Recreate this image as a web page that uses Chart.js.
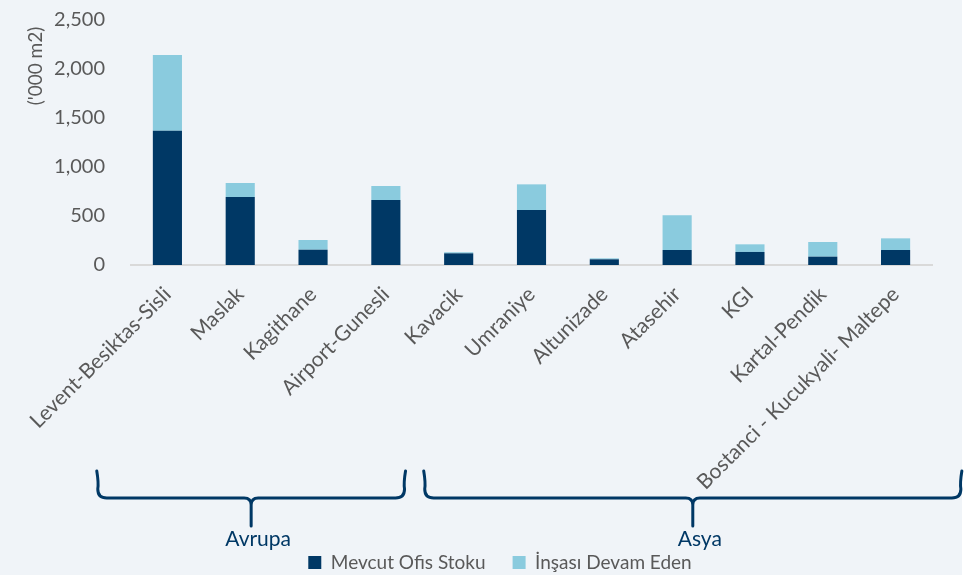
<!DOCTYPE html>
<html><head><meta charset="utf-8">
<script src="https://cdn.jsdelivr.net/npm/chart.js@4"></script>
<style>html,body{margin:0;padding:0;background:#fff;overflow:hidden}</style>
</head><body>
<canvas id="c" width="968" height="575" style="width:968px;height:575px;display:block"></canvas>
<script>
const categories = ['Levent-Besiktas-Sisli','Maslak','Kagithane','Airport-Gunesli','Kavacik','Umraniye','Altunizade','Atasehir','KGI','Kartal-Pendik','Bostanci - Kucukyali- Maltepe'];
const existingStock = [1370, 694, 156, 663, 119, 561, 58, 153, 133, 85, 153];
const underConstruction = [773, 143, 99, 143, 11, 262, 10, 354, 78, 150, 119];
const seriesNames = ['Mevcut Ofis Stoku', 'İnşası Devam Eden'];
const yTicks = [0, 500, 1000, 1500, 2000, 2500];
const yTitle = "('000 m2)";
const groupLabels = ['Avrupa', 'Asya'];
const groupFrom = [-0.97, 3.52];
const groupTo = [3.27, 10.91];

const FONT = 'Lato';
const GRAY = '#595959';
const NAVY = '#003865';
const LIGHT = '#8ACBDE';

const bgPlugin = {
  id: 'bg',
  beforeDraw(chart) {
    const c = chart.ctx;
    c.save();
    c.fillStyle = '#F0F4F8';
    c.fillRect(0, 0, 962, chart.height);
    c.restore();
  }
};

const legendShift = {
  id: 'legendShift',
  afterLayout(chart) {
    const lg = chart.legend;
    if (lg) { lg.left += 9; lg.right += 9; }
  }
};

const extrasPlugin = {
  id: 'extras',
  afterDraw(chart) {
    const c = chart.ctx;
    const x = chart.scales.x, y = chart.scales.y;
    const base = chart.chartArea.bottom;
    // y title
    c.save();
    c.fillStyle = GRAY;
    c.font = '19px ' + FONT;
    c.textAlign = 'center';
    c.textBaseline = 'middle';
    c.translate(36, y.top + 46);
    c.rotate(-Math.PI / 2);
    c.fillText(yTitle, 0, 0);
    c.restore();
    // braces
    const top = base + 206, line = base + 233, stem = base + 261;
    const r = 9, r2 = 7;
    c.save();
    c.strokeStyle = NAVY;
    c.lineWidth = 3;
    c.lineCap = 'round';
    c.lineJoin = 'round';
    for (let i = 0; i < groupLabels.length; i++) {
      const L = x.getPixelForValue(groupFrom[i]);
      const R = x.getPixelForValue(groupTo[i]);
      const C = (L + R) / 2;
      c.beginPath();
      c.moveTo(L, top);
      c.quadraticCurveTo(L + 2, line - r - 6, L + 1, line - r);
      c.quadraticCurveTo(L + 1, line, L + r + 1, line);
      c.lineTo(C - r2, line);
      c.quadraticCurveTo(C, line, C, line + r2);
      c.lineTo(C, stem);
      c.moveTo(R, top);
      c.quadraticCurveTo(R - 2, line - r - 6, R - 1, line - r);
      c.quadraticCurveTo(R - 1, line, R - r - 1, line);
      c.lineTo(C + r2, line);
      c.quadraticCurveTo(C, line, C, line + r2);
      c.stroke();
      c.fillStyle = NAVY;
      c.font = '21px ' + FONT;
      c.textAlign = 'center';
      c.textBaseline = 'alphabetic';
      c.fillText(groupLabels[i], C + 7, base + 281);
    }
    c.restore();
  }
};

new Chart(document.getElementById('c'), {
  type: 'bar',
  data: {
    labels: categories,
    datasets: [
      { label: seriesNames[0], data: existingStock, backgroundColor: NAVY, borderWidth: 0 },
      { label: seriesNames[1], data: underConstruction, backgroundColor: LIGHT, borderWidth: 0 }
    ]
  },
  options: {
    responsive: false,
    animation: false,
    devicePixelRatio: 1,
    layout: { padding: { left: 50, right: 36, top: 20, bottom: -7 } },
    datasets: { bar: { categoryPercentage: 1, barPercentage: 0.4 } },
    plugins: {
      legend: {
        position: 'bottom',
        labels: { boxWidth: 13, boxHeight: 13, color: GRAY, font: { family: FONT, size: 19 }, padding: 27 }
      },
      tooltip: { enabled: false }
    },
    scales: {
      x: {
        stacked: true,
        grid: { display: false, drawTicks: false },
        border: { color: '#D9D9D9', width: 2 },
        ticks: { minRotation: 45, maxRotation: 45, autoSkip: false, color: GRAY, font: { family: FONT, size: 21 }, padding: 17 },
        afterFit(s) { s.height = 261; }
      },
      y: {
        stacked: true,
        min: 0, max: 2500,
        afterBuildTicks(s) { s.ticks = yTicks.map(v => ({ value: v })); },
        grid: { display: false, drawTicks: false },
        border: { display: false },
        ticks: { color: GRAY, font: { family: FONT, size: 20 }, padding: 26, callback: v => v.toLocaleString('en-US') },
        afterFit(s) { s.width = 81; s.paddingTop = 0; s.paddingBottom = 0; }
      }
    }
  },
  plugins: [bgPlugin, legendShift, extrasPlugin]
});
</script>
</body></html>
